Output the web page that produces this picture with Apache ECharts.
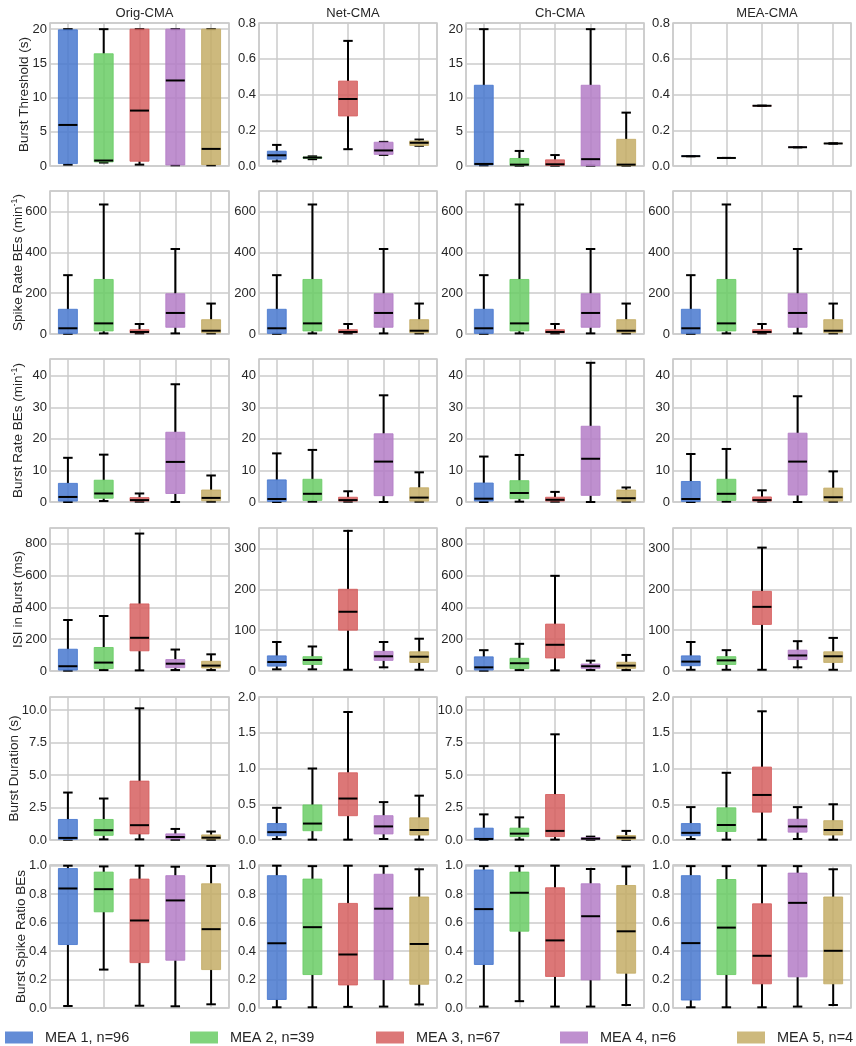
<!DOCTYPE html>
<html><head><meta charset="utf-8">
<script src="https://cdn.jsdelivr.net/npm/echarts@6/dist/echarts.min.js"></script>
<style>html,body{margin:0;padding:0;background:#fff}#c{width:856px;height:1046px}</style>
</head><body><div id="c"></div>
<script>
// ---------- DATA ----------
const groups = ['MEA 1, n=96', 'MEA 2, n=39', 'MEA 3, n=67', 'MEA 4, n=6', 'MEA 5, n=4'];
const panelTitles = ['Orig-CMA', 'Net-CMA', 'Ch-CMA', 'MEA-CMA'];
const rowNames = [
  'Burst Threshold (s)',
  '{a|Spike Rate BEs (min}{s|-1}{a|)}',
  '{a|Burst Rate BEs (min}{s|-1}{a|)}',
  'ISI in Burst (ms)',
  'Burst Duration (s)',
  'Burst Spike Ratio BEs'
];
// each box: [min, Q1, median, Q3, max]
const burstThresholdOrig = [[0.2,0.35,6.0,19.9,20],[0.5,0.6,0.8,16.4,20],[0.2,0.7,8.1,20,20],[0.1,0.15,12.5,20,20],[0.1,0.2,2.5,20,20]];
const burstThresholdNet  = [[0.026,0.038,0.060,0.083,0.118],[0.038,0.043,0.047,0.050,0.054],[0.094,0.280,0.375,0.475,0.700],[0.062,0.065,0.087,0.133,0.135],[0.113,0.115,0.130,0.140,0.148]];
const burstThresholdCh   = [[0.1,0.15,0.3,11.8,20],[0.05,0.1,0.2,1.1,2.2],[0.05,0.1,0.25,0.9,1.6],[0.05,0.05,1.0,11.8,20],[0.05,0.05,0.2,3.9,7.8]];
const burstThresholdMEA  = [[0.055,0.055,0.055,0.055,0.055],[0.045,0.045,0.045,0.045,0.045],[0.337,0.337,0.337,0.337,0.337],[0.105,0.105,0.105,0.105,0.105],[0.126,0.126,0.126,0.126,0.126]];

const spikeRateOrig = [[1,3,28,121,288],[3,15,52,267,634],[3,6,10,21,49],[3,33,103,197,416],[3,6,16,70,149]];
const spikeRateNet  = [[1,3,28,121,288],[3,15,52,267,634],[3,6,10,21,49],[3,33,103,197,416],[3,6,16,70,149]];
const spikeRateCh   = [[1,3,28,121,288],[3,15,52,267,634],[3,6,10,21,49],[3,33,103,197,416],[3,6,16,70,149]];
const spikeRateMEA  = [[1,3,28,121,288],[3,15,52,267,634],[3,6,10,21,49],[3,33,103,197,416],[3,6,16,70,149]];

const burstRateOrig = [[0,0.3,1.6,5.9,14.0],[0.3,1.2,2.7,6.9,15.0],[0.1,0.3,0.6,1.4,2.7],[0,2.7,12.7,22.1,37.3],[0.1,0.4,1.3,3.8,8.4]];
const burstRateNet  = [[0,0.2,0.95,7.0,15.4],[0.1,0.5,2.6,7.2,16.5],[0.1,0.3,0.6,1.5,3.4],[0,2.0,12.8,21.6,33.8],[0.1,0.3,1.4,4.5,9.4]];
const burstRateCh   = [[0,0.3,1.05,6.0,14.4],[0.1,1.05,2.85,6.75,14.9],[0.1,0.3,0.7,1.5,3.2],[0,2.1,13.7,24.0,44.1],[0.1,0.3,1.2,3.8,4.6]];
const burstRateMEA  = [[0,0.2,0.95,6.5,15.2],[0.1,0.5,2.6,7.2,16.8],[0.1,0.3,0.6,1.6,3.7],[0,2.2,12.8,21.8,33.5],[0.1,0.3,1.5,4.4,9.7]];

const isiOrig = [[2,6,30,137,321],[6,15,53,148,346],[4,127,209,422,865],[6,21,46,72,135],[6,19,34,61,105]];
const isiNet  = [[4,12,22,37,71],[4,16,27,35,60],[3,100,145,200,343],[9,26,36,48,71],[3,21,35,47,79]];
const isiCh   = [[2,6,23,89,131],[6,15,49,80,171],[4,82,165,295,599],[6,17,30,44,65],[6,17,34,55,101]];
const isiMEA  = [[3,13,23,37,71],[3,16,26,35,51],[3,114,157,195,302],[9,28,38,51,73],[3,21,36,47,81]];

const durationOrig = [[0.02,0.05,0.16,1.58,3.65],[0.05,0.36,0.75,1.58,3.19],[0.05,0.47,1.14,4.53,10.13],[0.02,0.08,0.23,0.47,0.85],[0.02,0.08,0.18,0.39,0.65]];
const durationNet  = [[0.014,0.06,0.11,0.23,0.45],[0.005,0.13,0.23,0.49,1.0],[0.005,0.34,0.58,0.94,1.79],[0.014,0.085,0.19,0.34,0.53],[0.005,0.07,0.14,0.31,0.62]];
const durationCh   = [[0.02,0.03,0.08,0.91,1.97],[0.03,0.26,0.49,0.91,1.74],[0.03,0.26,0.7,3.5,8.13],[0.02,0.05,0.1,0.18,0.26],[0.02,0.05,0.18,0.34,0.7]];
const durationMEA  = [[0.014,0.06,0.10,0.23,0.46],[0.005,0.12,0.21,0.45,0.94],[0.005,0.39,0.63,1.02,1.80],[0.014,0.11,0.19,0.29,0.46],[0.005,0.07,0.14,0.27,0.50]];

const spikeRatioOrig = [[0.014,0.446,0.84,0.98,1.0],[0.27,0.676,0.835,0.955,0.995],[0.016,0.319,0.615,0.906,1.0],[0.012,0.336,0.756,0.93,0.993],[0.026,0.27,0.554,0.873,0.998]];
const spikeRatioNet  = [[0.005,0.06,0.455,0.93,1.0],[0.005,0.235,0.568,0.906,0.997],[0.008,0.162,0.376,0.735,1.0],[0.01,0.2,0.698,0.94,0.997],[0.025,0.167,0.45,0.78,0.975]];
const spikeRatioCh   = [[0.01,0.306,0.695,0.97,0.997],[0.048,0.54,0.81,0.955,0.997],[0.01,0.222,0.475,0.845,1.0],[0.01,0.198,0.645,0.873,0.977],[0.021,0.245,0.539,0.861,0.995]];
const spikeRatioMEA  = [[0.005,0.056,0.456,0.93,0.997],[0.005,0.235,0.565,0.903,0.997],[0.005,0.17,0.367,0.732,1.0],[0.01,0.219,0.739,0.948,0.997],[0.021,0.17,0.402,0.78,0.975]];

// y-axis ranges per panel: [min, max, interval]
const yRangesBurstThreshold = [[0,20.9,5],[0,0.8,0.2],[0,20.9,5],[0,0.8,0.2]];
const yRangesSpikeRate      = [[0,700,200],[0,700,200],[0,700,200],[0,700,200]];
const yRangesBurstRate      = [[0,45.3,10],[0,45.3,10],[0,45.3,10],[0,45.3,10]];
const yRangesISI            = [[0,900,200],[0,350,100],[0,900,200],[0,350,100]];
const yRangesDuration       = [[0,11,2.5],[0,2.0,0.5],[0,11,2.5],[0,2.0,0.5]];
const yRangesSpikeRatio     = [[0,1.005,0.2],[0,1.005,0.2],[0,1.005,0.2],[0,1.005,0.2]];

// ---------- ASSEMBLY ----------
const rowsData = [
  [burstThresholdOrig, burstThresholdNet, burstThresholdCh, burstThresholdMEA],
  [spikeRateOrig, spikeRateNet, spikeRateCh, spikeRateMEA],
  [burstRateOrig, burstRateNet, burstRateCh, burstRateMEA],
  [isiOrig, isiNet, isiCh, isiMEA],
  [durationOrig, durationNet, durationCh, durationMEA],
  [spikeRatioOrig, spikeRatioNet, spikeRatioCh, spikeRatioMEA]
];
const rowsRanges = [yRangesBurstThreshold, yRangesSpikeRate, yRangesBurstRate, yRangesISI, yRangesDuration, yRangesSpikeRatio];

const colors = ['#4878CF', '#6ACC65', '#D65F5F', '#B47CC7', '#C4AD66'];
const FONT = '"Liberation Sans", Arial, Helvetica, sans-serif';
const TXT = '#262626';
const GRIDC = '#cbcbcb';
const colLeft = [50, 259, 466, 673];
const colWidth = [179, 178, 178, 178];
const rowTop = [23, 191, 359, 528, 697, 865];
const rowHeight = 143;
const nameGaps = [19, 25, 25, 25, 29, 22];
const legendLeft = [5, 190, 376, 560, 737];

function renderBox(params, api) {
  const x = api.value(0);
  const pMin = api.coord([x, api.value(1)]);
  const pQ1 = api.coord([x, api.value(2)]);
  const pMed = api.coord([x, api.value(3)]);
  const pQ3 = api.coord([x, api.value(4)]);
  const pMax = api.coord([x, api.value(5)]);
  const band = api.size([1, 0])[0];
  const bw = band * 0.53;
  const cw = bw * 0.5;
  const cx = pMed[0];
  const color = api.visual('color');
  const blk = { stroke: '#000', lineWidth: 2 };
  return {
    type: 'group',
    children: [
      { type: 'line', shape: { x1: cx, y1: pQ3[1], x2: cx, y2: pMax[1] }, style: blk },
      { type: 'line', shape: { x1: cx, y1: pQ1[1], x2: cx, y2: pMin[1] }, style: blk },
      { type: 'line', shape: { x1: cx - cw / 2, y1: pMax[1], x2: cx + cw / 2, y2: pMax[1] }, style: blk },
      { type: 'line', shape: { x1: cx - cw / 2, y1: pMin[1], x2: cx + cw / 2, y2: pMin[1] }, style: blk },
      { type: 'rect', shape: { x: cx - bw / 2, y: pQ3[1], width: bw, height: pQ1[1] - pQ3[1] },
        style: { fill: color, stroke: color, lineWidth: 1, opacity: 0.85 } },
      { type: 'line', shape: { x1: cx - bw / 2, y1: pMed[1], x2: cx + bw / 2, y2: pMed[1] }, style: blk }
    ]
  };
}

const grid = [], xAxis = [], yAxis = [], series = [], title = [], legend = [];
let idx = 0;
for (let r = 0; r < 6; r++) {
  for (let c = 0; c < 4; c++) {
    const [ymin, ymax, yint] = rowsRanges[r][c];
    const dec = (Math.round(yint) === yint) ? 0 : 1;
    grid.push({ left: colLeft[c], top: rowTop[r], width: colWidth[c], height: rowHeight,
      show: true, borderColor: GRIDC, borderWidth: 1.5, backgroundColor: '#fff' });
    xAxis.push({ type: 'value', gridIndex: idx, min: -0.5, max: 4.5,
      axisLine: { show: false }, axisTick: { show: false }, axisLabel: { show: false },
      splitLine: { show: true, lineStyle: { color: GRIDC, width: 1.5 } } });
    const ya = { type: 'value', gridIndex: idx, min: ymin, max: ymax, interval: yint,
      axisLine: { show: false }, axisTick: { show: false },
      splitLine: { show: true, lineStyle: { color: GRIDC, width: 1.5 } },
      axisLabel: { color: TXT, fontSize: 13, fontFamily: FONT, margin: 3,
        formatter: v => { const k = v / yint; return Math.abs(k - Math.round(k)) < 1e-6 ? v.toFixed(dec) : ''; } } };
    if (c === 0) {
      ya.name = rowNames[r];
      ya.nameLocation = 'middle';
      ya.nameRotate = 90;
      ya.nameGap = nameGaps[r];
      ya.nameMoveOverlap = false;
      ya.nameTextStyle = { color: TXT, fontSize: 13.5, fontFamily: FONT,
        rich: { a: { fontSize: 13.5, fontFamily: FONT, color: TXT, verticalAlign: 'bottom', lineHeight: 15 },
                s: { fontSize: 9, fontFamily: FONT, color: TXT, verticalAlign: 'top', lineHeight: 10, padding: [0, 0, 8, 0] } } };
    }
    yAxis.push(ya);
    for (let g = 0; g < 5; g++) {
      series.push({ type: 'custom', name: groups[g], xAxisIndex: idx, yAxisIndex: idx,
        itemStyle: { color: colors[g] }, encode: { x: 0, y: [1, 2, 3, 4, 5] },
        renderItem: renderBox, silent: true, animation: false,
        data: [[g].concat(rowsData[r][c][g])] });
    }
    idx++;
  }
}
for (let c = 0; c < 4; c++) {
  title.push({ text: panelTitles[c], left: colLeft[c] + colWidth[c] / 2, textAlign: 'center', top: 2,
    textStyle: { fontSize: 13, fontWeight: 'normal', color: TXT, fontFamily: FONT } });
}
for (let g = 0; g < 5; g++) {
  legend.push({ data: [groups[g]], left: legendLeft[g], top: 1030, padding: 0, icon: 'rect',
    itemWidth: 28, itemHeight: 12, selectedMode: false,
    itemStyle: { opacity: 0.85 },
    textStyle: { fontSize: 14.5, color: TXT, fontFamily: FONT, padding: [0, 0, 0, 7] } });
}

const chart = echarts.init(document.getElementById('c'), null, { renderer: 'canvas' });
chart.setOption({ backgroundColor: '#fff', animation: false, textStyle: { fontFamily: FONT },
  title, legend, grid, xAxis, yAxis, series });
</script></body></html>
